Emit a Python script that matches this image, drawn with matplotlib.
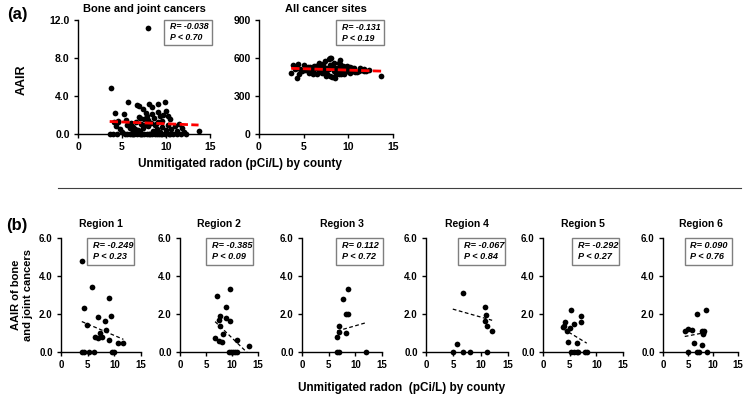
import matplotlib
matplotlib.use("Agg")
import matplotlib.pyplot as plt
from matplotlib.patches import Rectangle
import numpy as np

plt.rcParams['font.family'] = ['Liberation Sans', 'DejaVu Sans']
plt.rcParams['font.weight'] = 'bold'

# ---------------- data ----------------
# county radon (x) shared by the two top panels
county_radon = [7.9, 3.8, 4.2, 5.7, 5.2, 6.7, 6.9, 7.4, 8.1, 8.4, 9.1, 9.9, 8.4, 7.8, 9.1, 9.3,
                8.6, 6.9, 7.0, 7.5, 7.9, 9.1, 9.5, 9.7, 10.0, 10.2, 10.4, 11.5, 13.7, 4.1, 4.6, 4.3,
                4.8, 7.4, 5.5, 6.0, 6.3, 6.5, 6.2, 5.9, 7.2, 7.6, 8.0, 8.3, 8.8, 9.0, 9.5, 10.0,
                10.6, 11.2, 11.8, 12.0, 6.8, 7.1, 8.5, 9.3, 5.6, 6.6, 7.7, 8.9, 10.2, 11.0, 5.0, 4.5,
                3.6, 4.0, 4.4, 5.3, 5.6, 5.9, 6.1, 6.4, 6.7, 7.0, 7.3, 7.5, 7.8, 8.1, 8.4, 8.7,
                9.0, 9.2, 9.6, 9.9, 10.3, 10.8, 11.3, 11.7, 12.3, 6.2, 7.2, 8.2, 9.4, 10.5]
aair_bone = [11.2, 4.8, 2.2, 3.4, 2.1, 3.1, 2.9, 2.6, 3.2, 2.8, 3.2, 3.4, 2.1, 1.9, 2.3, 1.9,
             1.7, 1.8, 1.7, 1.6, 1.5, 1.3, 1.4, 2.0, 2.4, 1.9, 1.6, 1.1, 0.35, 1.3, 1.3, 0.8,
             0.5, 0.6, 1.5, 1.2, 0.7, 0.5, 0.3, 0.6, 1.1, 1.0, 0.8, 1.2, 0.9, 0.5, 0.7, 0.4,
             0.5, 0.3, 0.6, 0.2, 0.4, 0.2, 0.3, 0.2, 0.9, 1.3, 2.2, 1.1, 1.0, 0.8, 0.2, 1.4,
             0, 0, 0, 0, 0, 0, 0, 0, 0, 0, 0, 0, 0, 0, 0, 0,
             0, 0, 0, 0, 0, 0, 0, 0, 0, 0, 0, 0, 0, 0]
aair_all = [598, 545, 520, 530, 505, 560, 540, 575, 600, 560, 585, 540, 520, 590, 555, 500,
            470, 515, 480, 525, 545, 510, 470, 530, 500, 485, 520, 505, 458, 525, 510, 440,
            495, 500, 530, 490, 520, 475, 540, 505, 550, 470, 455, 520, 490, 560, 515, 495,
            520, 500, 510, 500, 530, 495, 440, 525, 480, 535, 510, 470, 530, 490, 545, 470,
            480, 515, 550, 520, 490, 505, 470, 540, 500, 525, 480, 460, 510, 545, 500, 520,
            485, 470, 530, 495, 515, 490, 525, 500, 505, 510, 490, 450, 540, 500]

top_titles = ["Bone and joint cancers", "All cancer sites"]
top_stats = [("R= -0.038", "P < 0.70"), ("R= -0.131", "P < 0.19")]
top_fit_intercept = [1.45, 526.3]
top_fit_slope = [-0.037, -2.19]
top_yticks = [[0, 4, 8, 12], [0, 300, 600, 900]]
top_yticklabels = [["0.0", "4.0", "8.0", "12.0"], ["0", "300", "600", "900"]]

region_names = ["Region 1", "Region 2", "Region 3", "Region 4", "Region 5", "Region 6"]
region_x = [
    [3.9, 5.75, 9.06, 4.3, 6.9, 9.3, 8.25, 4.8, 8.4, 7.3, 6.4, 7.0, 7.6, 9.06, 10.6, 11.7, 4.0, 4.4, 5.3, 6.2, 9.6, 9.9],
    [9.7, 7.2, 8.9, 7.6, 7.5, 8.75, 9.7, 7.7, 8.3, 6.75, 7.5, 8.1, 10.9, 13.3, 9.4, 9.8, 10.2, 10.6, 11.0],
    [8.7, 7.75, 8.25, 8.7, 7.0, 7.0, 8.25, 6.6, 6.6, 6.9, 12.0],
    [6.8, 10.8, 11.0, 10.8, 11.1, 12.1, 5.6, 4.9, 6.8, 8.0, 11.2],
    [5.2, 4.1, 3.9, 3.8, 5.0, 5.8, 7.2, 7.05, 4.5, 4.7, 6.3, 5.3, 5.8, 6.4, 6.6, 7.8, 8.2],
    [8.6, 6.75, 4.35, 4.9, 5.8, 7.7, 8.1, 7.9, 8.05, 6.1, 7.7, 4.9, 6.75, 7.1, 8.7],
]
region_y = [
    [4.8, 3.4, 2.86, 2.3, 1.83, 1.9, 1.65, 1.4, 1.15, 0.98, 0.77, 0.75, 0.77, 0.63, 0.49, 0.49, 0, 0, 0, 0, 0, 0],
    [3.3, 2.95, 2.35, 1.9, 1.7, 1.77, 1.65, 1.37, 0.95, 0.72, 0.6, 0.54, 0.63, 0.33, 0, 0, 0, 0, 0],
    [3.3, 2.8, 2.0, 2.0, 1.37, 1.03, 1.0, 0.8, 0, 0, 0],
    [3.12, 2.35, 1.95, 1.65, 1.37, 1.1, 0.42, 0, 0, 0, 0],
    [2.2, 1.56, 1.37, 1.33, 1.28, 1.45, 1.89, 1.56, 1.1, 0.51, 0.46, 0, 0, 0, 0, 0, 0],
    [2.2, 2.0, 1.1, 1.2, 1.15, 1.1, 1.1, 1.0, 0.95, 0.45, 0.35, 0, 0, 0, 0],
]
region_stats = [("R= -0.249", "P < 0.23"), ("R= -0.385", "P < 0.09"), ("R= 0.112", "P < 0.72"),
                ("R= -0.067", "P < 0.84"), ("R= -0.292", "P < 0.27"), ("R= 0.090", "P < 0.76")]
region_fit_intercept = [2.07, 3.38, 0.57, 2.66, 1.86, 0.60]
region_fit_slope = [-0.12, -0.264, 0.081, -0.082, -0.17, 0.05]
region_yticks = [0, 2, 4, 6]
region_yticklabels = ["0.0", "2.0", "4.0", "6.0"]
xticks = [0, 5, 10, 15]

# ---------------- layout ----------------
W, H = 746, 395
fig = plt.figure(figsize=(W / 100, H / 100), dpi=100)


def px_axes(left, top, right, bottom):
    return fig.add_axes([left / W, 1 - bottom / H, (right - left) / W, (bottom - top) / H])


def style(ax, ymax, yt, ytl, fs):
    ax.set_xlim(0, 15)
    ax.set_ylim(0, ymax)
    for s in ['top', 'right']:
        ax.spines[s].set_visible(False)
    for s in ['left', 'bottom']:
        ax.spines[s].set_linewidth(1.0)
    ax.set_xticks(xticks)
    ax.set_xticklabels([str(t) for t in xticks], fontsize=fs, fontweight='bold')
    ax.set_yticks(yt)
    ax.set_yticklabels(ytl, fontsize=fs, fontweight='bold')
    ax.tick_params(direction='out', length=3, width=1, pad=3)
    ax.patch.set_alpha(0)


def stat_box(ax, cx, cy, w, h, lines, fs):
    # cx, cy: box center in axes fraction; w, h in pixels
    bb = ax.get_position()
    wf = w / (bb.width * W)
    hf = h / (bb.height * H)
    ax.add_patch(Rectangle((cx - wf / 2, cy - hf / 2), wf, hf, transform=ax.transAxes,
                           fill=True, fc='white', ec='#7f7f7f', lw=1.0, clip_on=False, zorder=5))
    ax.text(cx - wf / 2 + 6 / (bb.width * W), cy, lines[0] + "\n" + lines[1], transform=ax.transAxes,
            ha='left', va='center', fontsize=fs, fontweight='bold', fontstyle='italic',
            linespacing=1.25, zorder=6)


# top panels
top_boxes = [(78, 20, 210, 134), (259, 20, 393, 134)]
top_ymax = [12, 900]
top_box_pos = [(0.83, 0.893), (0.75, 0.888)]
top_y = [aair_bone, aair_all]
for i in range(2):
    ax = px_axes(*top_boxes[i])
    style(ax, top_ymax[i], top_yticks[i], top_yticklabels[i], 7.5)
    ax.scatter(county_radon, top_y[i], s=17, color='black', zorder=3, clip_on=False, linewidths=0)
    xs = np.array([min(county_radon), max(county_radon)])
    ax.plot(xs, top_fit_intercept[i] + top_fit_slope[i] * xs, color='red', lw=2.0,
            linestyle=(0, (3, 1.2)), zorder=4)
    ax.set_title(top_titles[i], fontsize=8, fontweight='bold', pad=6)
    stat_box(ax, top_box_pos[i][0], top_box_pos[i][1], 48, 25, top_stats[i], 6.3)

fig.text(17 / W, 1 - 15 / H, "(a)", fontsize=12, fontweight='bold', ha='center', va='center')
fig.text(22 / W, 1 - 80 / H, "AAIR", fontsize=9, fontweight='bold', rotation=90, ha='center', va='center')
fig.text(240 / W, 1 - 164 / H, "Unmitigated radon (pCi/L) by county", fontsize=8.5,
         fontweight='bold', ha='center', va='center')

# separator
fig.add_artist(plt.Line2D([58 / W, 741 / W], [1 - 188 / H, 1 - 188 / H], color='#404040', lw=0.8))

# region panels
region_lefts = [61, 180, 302, 426, 543, 663]
region_widths = [80, 78, 80, 82, 80, 75]
region_box_pos = [(0.62, 0.883), (0.64, 0.883), (0.72, 0.885), (0.68, 0.885), (0.66, 0.885), (0.60, 0.885)]
for i in range(6):
    L = region_lefts[i]
    ax = px_axes(L, 238, L + region_widths[i], 352)
    style(ax, 6, region_yticks, region_yticklabels, 7)
    ax.scatter(region_x[i], region_y[i], s=17, color='black', zorder=3, clip_on=False, linewidths=0)
    xs = np.linspace(min(region_x[i]), max(region_x[i]), 50)
    ax.plot(xs, region_fit_intercept[i] + region_fit_slope[i] * xs, color='black', lw=0.9,
            linestyle=(0, (3, 2)), zorder=4)
    ax.set_title(region_names[i], fontsize=7.5, fontweight='bold', pad=8)
    stat_box(ax, region_box_pos[i][0], region_box_pos[i][1], 47, 27, region_stats[i], 6.6)

fig.text(17 / W, 1 - 225 / H, "(b)", fontsize=12, fontweight='bold', ha='center', va='center')
fig.text(22 / W, 1 - 295 / H, "AAIR of bone\nand joint cancers", fontsize=8, fontweight='bold',
         rotation=90, ha='center', va='center', linespacing=1.2)
fig.text(402 / W, 1 - 388 / H, "Unmitigated radon  (pCi/L) by county", fontsize=8.5,
         fontweight='bold', ha='center', va='center')

fig.savefig("out.png", dpi=100)
